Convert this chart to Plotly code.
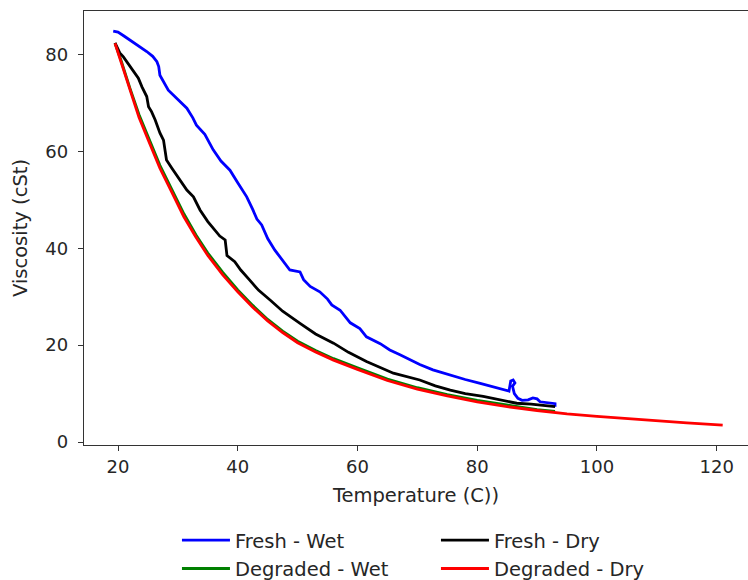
import plotly.graph_objects as go

# Fresh - Wet
fw_t = [19.2, 20.0, 21.0, 22.0, 23.5, 24.8, 25.8, 26.5, 26.8, 27.0, 28.4, 30.4, 31.5, 32.5, 33.1,
        34.5, 35.9, 37.2, 38.7, 40.0, 41.5, 42.5, 43.2, 44.0, 45.0, 46.2, 47.5, 48.7, 50.4, 51.0,
        52.1, 53.7, 55.0, 55.7, 57.1, 58.8, 60.4, 61.5, 63.8, 65.4, 67.1, 68.8, 70.4, 72.6, 75.5,
        78.0, 80.5, 83.0, 85.3, 85.6, 86.0, 86.3, 85.9, 86.2, 86.8, 87.5, 88.5, 89.3, 90.0, 90.5,
        91.5, 92.5, 93.0, 93.0]
fw_v = [84.8, 84.6, 83.8, 83.0, 81.8, 80.6, 79.6, 78.5, 77.5, 75.7, 72.6, 70.2, 68.9, 66.9, 65.4,
        63.5, 60.3, 58.0, 56.1, 53.5, 50.6, 48.0, 46.0, 44.8, 42.0, 39.6, 37.5, 35.5, 35.1, 33.5,
        32.1, 31.0, 29.5, 28.3, 27.2, 24.6, 23.4, 21.7, 20.3, 19.0, 18.0, 16.9, 16.0, 14.9, 13.8,
        12.9, 12.1, 11.2, 10.5, 12.6, 12.8, 12.2, 11.5, 10.0, 9.0, 8.6, 8.7, 9.1, 8.9, 8.3,
        8.2, 8.1, 7.9, 7.3]

# Degraded - Wet
dw_t = [19.5, 20.5, 22.0, 23.5, 25.0, 27.0, 29.0, 31.0, 33.0, 35.0, 37.5, 40.0, 42.5, 45.0, 47.5,
        50.0, 53.0, 56.0, 60.0, 65.0, 70.0, 75.0, 80.0, 85.0, 90.0, 93.0]
dw_v = [82.3, 78.8, 73.0, 67.6, 63.1, 57.1, 52.1, 47.1, 42.8, 39.0, 35.0, 31.4, 28.2, 25.3, 22.9,
        20.8, 18.9, 17.2, 15.3, 13.0, 11.2, 9.8, 8.6, 7.6, 6.7, 6.3]

# Fresh - Dry
fd_t = [19.5, 20.3, 20.9, 22.0, 23.4, 24.0, 24.8, 25.1, 25.6, 26.2, 27.0, 27.6, 28.1, 29.0, 30.4,
        31.5, 32.6, 33.7, 35.0, 36.2, 37.0, 37.9, 38.2, 39.5, 40.5, 42.0, 43.5, 45.4, 47.5, 50.4,
        53.0, 56.0, 58.5, 61.5, 64.0, 66.0, 70.4, 73.0, 75.5, 78.0, 81.0, 84.0, 86.6, 89.0, 91.0,
        93.0]
fd_v = [82.4, 80.3, 79.5, 77.5, 75.1, 73.3, 71.3, 69.2, 68.2, 66.5, 63.8, 62.3, 58.2, 56.5, 54.1,
        52.0, 50.6, 47.9, 45.5, 43.8, 42.5, 41.7, 38.5, 37.2, 35.5, 33.4, 31.3, 29.3, 27.0, 24.5,
        22.3, 20.4, 18.5, 16.6, 15.3, 14.2, 12.8, 11.6, 10.7, 10.0, 9.4, 8.6, 8.0, 7.8, 7.6,
        7.3]

# Degraded - Dry
dd_t = [19.5, 20.5, 22.0, 23.5, 25.0, 27.0, 29.0, 31.0, 33.0, 35.0, 37.5, 40.0, 42.5, 45.0, 47.5,
        50.0, 53.0, 56.0, 60.0, 65.0, 70.0, 75.0, 80.0, 85.0, 90.0, 95.0, 100.0, 105.0, 110.0, 115.0,
        121.0]
dd_v = [82.3, 78.5, 72.5, 67.0, 62.5, 56.5, 51.5, 46.5, 42.3, 38.5, 34.5, 31.0, 27.8, 25.0, 22.6,
        20.5, 18.6, 16.9, 15.0, 12.7, 10.9, 9.5, 8.3, 7.3, 6.5, 5.8, 5.3, 4.8, 4.4, 3.95,
        3.5]

x_ticks = [20, 40, 60, 80, 100, 120]
y_ticks = [0, 20, 40, 60, 80]

FONT = "DejaVu Sans"
TXT = "#262626"

fig = go.Figure()
series = [
    ("Fresh - Wet", fw_t, fw_v, "#0000ff", 1),
    ("Degraded - Wet", dw_t, dw_v, "#008000", 3),
    ("Fresh - Dry", fd_t, fd_v, "#000000", 2),
    ("Degraded - Dry", dd_t, dd_v, "#ff0000", 4),
]
for name, t, v, c, rank in series:
    fig.add_trace(go.Scatter(x=t, y=v, mode="lines", name=name,
                             line=dict(color=c, width=2.8), legendrank=rank))

fig.update_layout(
    width=748, height=580,
    margin=dict(l=84, r=0, t=11, b=135, autoexpand=False),
    paper_bgcolor="white", plot_bgcolor="white",
    font=dict(family=FONT, size=18, color=TXT),
    showlegend=True,
    legend=dict(orientation="h", x=0.14, xanchor="left", y=-0.175, yanchor="top",
                entrywidth=196, entrywidthmode="pixels", itemwidth=48,
                font=dict(family=FONT, size=19.5, color=TXT),
                bgcolor="rgba(0,0,0,0)", tracegroupgap=0),
)
fig.update_xaxes(range=[14.32, 125.23], tickvals=x_ticks, ticks="outside", ticklen=5,
                 tickwidth=1.2, tickcolor="#333", showline=True, linecolor="#333", linewidth=1.4,
                 mirror=True, showgrid=False, zeroline=False,
                 title=dict(text="Temperature (C))", font=dict(size=19.5), standoff=12))
fig.update_yaxes(range=[-0.62, 88.96], tickvals=y_ticks, ticks="outside", ticklen=5,
                 tickwidth=1.2, tickcolor="#333", showline=True, linecolor="#333", linewidth=1.4,
                 mirror=False, showgrid=False, zeroline=False, ticklabelstandoff=6,
                 title=dict(text="Viscosity (cSt)", font=dict(size=19.5), standoff=12))

fig.write_html("out.html")
